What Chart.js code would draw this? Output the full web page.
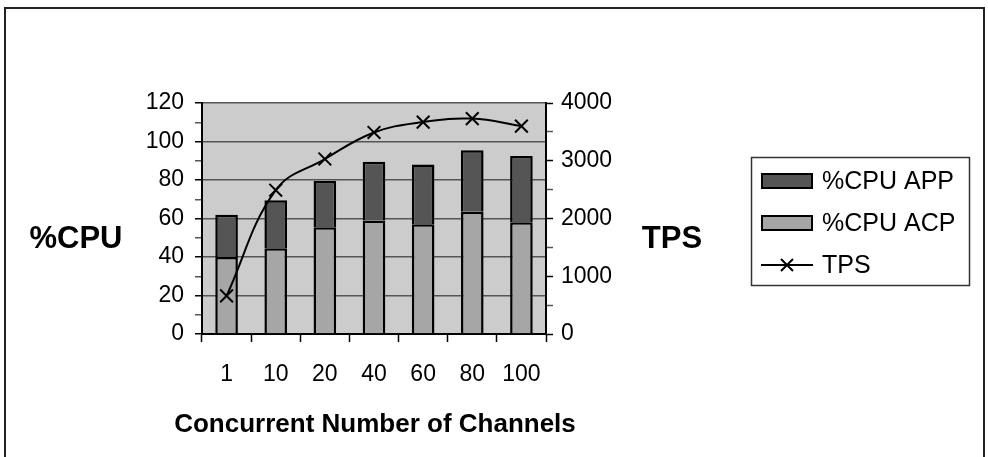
<!DOCTYPE html>
<html><head><meta charset="utf-8">
<script src="https://cdn.jsdelivr.net/npm/chart.js@4.4.1/dist/chart.umd.min.js"></script>
<style>html,body{margin:0;padding:0;background:#fff;}#wrap{width:988px;height:457px;position:relative;}</style>
</head><body><div id="wrap"><canvas id="c" width="988" height="457"></canvas></div>
<script>
const categories = ['1', '10', '20', '40', '60', '80', '100'];
const cpuAcp = [40, 44.5, 55.5, 59, 57, 63.5, 58];
const cpuApp = [22, 25, 24, 30.5, 31, 32, 34.5];
const tps = [660, 2490, 3030, 3490, 3670, 3730, 3600];
const seriesNames = ['%CPU ACP', '%CPU APP', 'TPS'];
const axisTitles = { left: '%CPU', right: 'TPS', bottom: 'Concurrent Number of Channels' };

const FONT = "'Liberation Sans', Arial, sans-serif";
const COL_APP = '#555555', COL_ACP = '#a6a6a6', COL_BG = '#cccccc', COL_GRID = '#555555';

const decor = {
  id: 'decor',
  beforeDraw(chart) {
    const { ctx, chartArea: a } = chart;
    ctx.save();
    ctx.fillStyle = '#fff';
    ctx.fillRect(0, 0, chart.width, chart.height);
    ctx.fillStyle = COL_BG;
    ctx.fillRect(a.left, a.top, a.right - a.left, a.bottom - a.top);
    ctx.strokeStyle = '#222';
    ctx.lineWidth = 2;
    ctx.strokeRect(5, 8, 979, 470);
    ctx.restore();
  },
  afterDraw(chart) {
    const { ctx, chartArea: a } = chart;
    ctx.save();
    ctx.fillStyle = '#000';
    ctx.font = "bold 31px " + FONT;
    ctx.textAlign = 'center';
    ctx.textBaseline = 'alphabetic';
    ctx.fillText(axisTitles.left, 76, 248);
    ctx.fillText(axisTitles.right, 672, 248);
    ctx.font = "bold 26px " + FONT;
    ctx.fillText(axisTitles.bottom, (a.left + a.right) / 2 + 1, 432);
    // legend
    const lx = 751, ly = 157, lw = 218, lh = 128;
    ctx.strokeStyle = '#333';
    ctx.lineWidth = 1.5;
    ctx.strokeRect(lx + 0.5, ly + 0.5, lw, lh);
    const ds = chart.data.datasets;
    const items = [ds[2], ds[1], ds[0]];
    const rowY = [181, 223, 265];
    ctx.font = "25px " + FONT;
    ctx.textAlign = 'left';
    ctx.textBaseline = 'middle';
    items.forEach((d, i) => {
      const y = rowY[i];
      if (d.type === 'line') {
        ctx.strokeStyle = '#000';
        ctx.lineWidth = 2;
        ctx.beginPath();
        ctx.moveTo(761, y); ctx.lineTo(813, y);
        ctx.moveTo(781, y - 6); ctx.lineTo(793, y + 6);
        ctx.moveTo(793, y - 6); ctx.lineTo(781, y + 6);
        ctx.stroke();
      } else {
        ctx.fillStyle = d.backgroundColor;
        ctx.fillRect(761, y - 8, 52, 16);
        ctx.strokeStyle = '#000';
        ctx.lineWidth = 2;
        ctx.strokeRect(762, y - 7, 50, 14);
      }
      ctx.fillStyle = '#000';
      ctx.fillText(d.label, 822, y + 1);
    });
    ctx.restore();
  }
};

new Chart(document.getElementById('c'), {
  type: 'bar',
  data: {
    labels: categories,
    datasets: [
      { type: 'line', label: seriesNames[2], data: tps, yAxisID: 'y1', order: 0,
        borderColor: '#000', borderWidth: 2, tension: 0.4, fill: false,
        pointStyle: 'crossRot', pointRadius: 9, pointBorderWidth: 2, pointBorderColor: '#000', pointBackgroundColor: '#000' },
      { label: seriesNames[0], data: cpuAcp, yAxisID: 'y', order: 1, backgroundColor: COL_ACP,
        borderColor: '#000', borderWidth: 2.5, barPercentage: 0.46, categoryPercentage: 1 },
      { label: seriesNames[1], data: cpuApp, yAxisID: 'y', order: 1, backgroundColor: COL_APP,
        borderColor: '#000', borderWidth: 2.5, barPercentage: 0.46, categoryPercentage: 1 }
    ]
  },
  options: {
    responsive: false, animation: false, devicePixelRatio: 1,
    layout: { padding: { top: 103, left: 0, right: 0, bottom: 0 } },
    plugins: { legend: { display: false }, tooltip: { enabled: false } },
    scales: {
      x: {
        stacked: true,
        afterFit(s) { s.height = 123; },
        grid: { offset: true, drawOnChartArea: false, drawTicks: true, tickLength: 8, tickColor: '#000', tickWidth: 1.5 },
        border: { display: true, color: '#000', width: 2 },
        ticks: { color: '#000', font: { family: FONT, size: 23 }, padding: 19, maxRotation: 0 }
      },
      y: {
        position: 'left', stacked: true, min: 0, max: 120,
        afterFit(s) { s.width = 202; },
        ticks: { stepSize: 10, autoSkip: false, color: '#000', font: { family: FONT, size: 23 }, padding: 11,
          callback: v => (v % 20 === 0 ? String(v) : '') },
        grid: { drawTicks: true, tickLength: 7, lineWidth: 1.5, tickWidth: 1.5,
          color: c => (c.tick && c.tick.value % 20 === 0 ? COL_GRID : 'rgba(0,0,0,0)'),
          tickColor: c => (c.tick && c.tick.value % 20 === 0 ? '#000' : '#555') },
        border: { display: true, color: '#000', width: 2 }
      },
      y1: {
        position: 'right', min: 0, max: 4000,
        afterFit(s) { s.width = 442; },
        ticks: { stepSize: 500, autoSkip: false, color: '#000', font: { family: FONT, size: 23 }, padding: 8,
          callback: v => (v % 1000 === 0 ? String(v) : '') },
        grid: { drawOnChartArea: false, drawTicks: true, tickLength: 7, tickWidth: 1.5,
          tickColor: c => (c.tick && c.tick.value % 1000 === 0 ? '#000' : '#555') },
        border: { display: true, color: '#000', width: 2 }
      }
    }
  },
  plugins: [decor]
});
</script></body></html>
